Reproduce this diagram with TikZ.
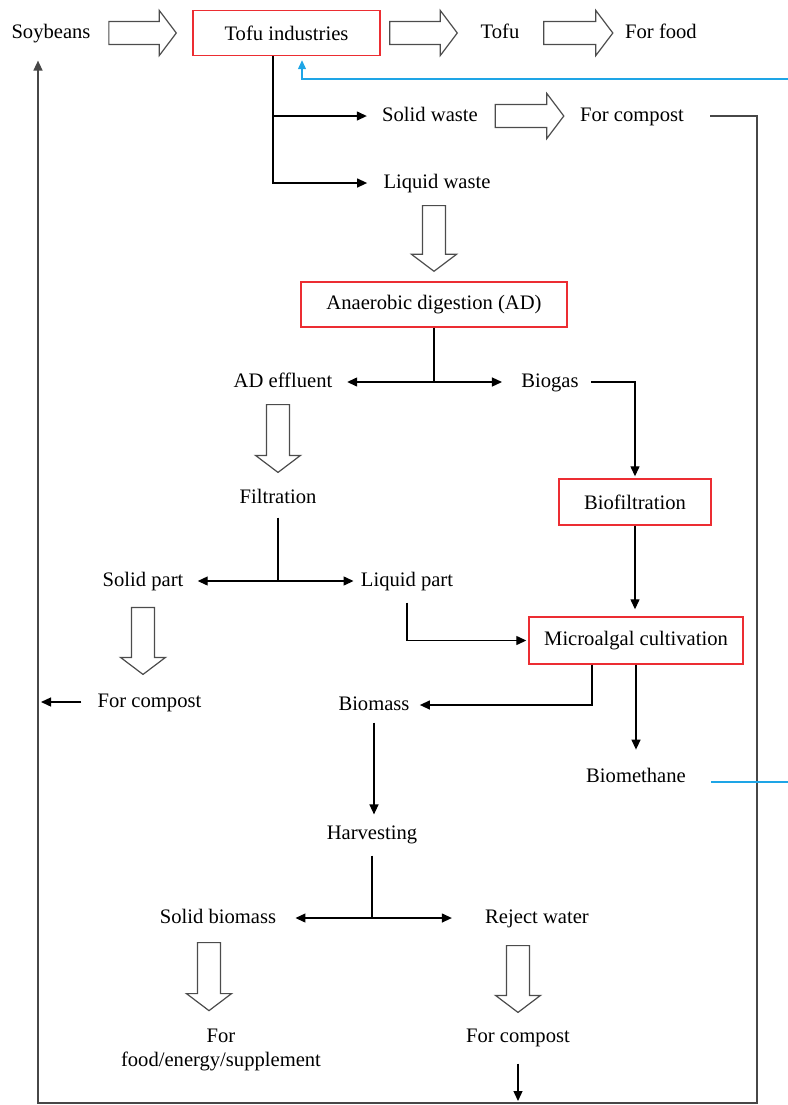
\documentclass[tikz,border=0pt]{standalone}
\usepackage{fontspec}
\setmainfont{Liberation Serif}
\usetikzlibrary{arrows.meta,calc}
\definecolor{boxred}{RGB}{236,45,50}
\definecolor{gasblue}{RGB}{30,165,230}
\begin{document}
\begin{tikzpicture}[x=0.5pt, y=-0.5pt, font=\fontsize{10.3}{12}\selectfont,
        txt/.style = {inner sep=0pt, text height=7.2pt, text depth=2pt},
        redbox/.style = {draw=boxred, line width=0.7pt, inner sep=0pt},
        link/.style = {line width=0.65pt},
        arr/.style = {link, -{Triangle[length=5pt, width=4.5pt]}},
        back/.style = {draw=black!72, line width=0.75pt},
        gasline/.style = {draw=gasblue, line width=0.6pt},
        hollow/.style = {draw=black!70, line width=0.6pt, to path={
            ($(\tikztostart)!5.75pt!90:(\tikztotarget)$)
            -- ($($(\tikztotarget)!8.5pt!(\tikztostart)$)!5.75pt!-90:(\tikztostart)$)
            -- ($($(\tikztotarget)!8.5pt!(\tikztostart)$)!11.25pt!-90:(\tikztostart)$)
            -- (\tikztotarget)
            -- ($($(\tikztotarget)!8.5pt!(\tikztostart)$)!11.25pt!90:(\tikztostart)$)
            -- ($($(\tikztotarget)!8.5pt!(\tikztostart)$)!5.75pt!90:(\tikztostart)$)
            -- ($(\tikztostart)!5.75pt!-90:(\tikztotarget)$) -- cycle}}]

        \useasboundingbox (0,0) rectangle (788,1105);

        \node[txt] (soy) at (51,33) {Soybeans};
        \node[redbox, minimum width=93.5pt, minimum height=22.5pt] (tofuind) at (286.5,33) {Tofu industries};
        \node[txt] (tofu) at (500,33) {Tofu};
        \node[txt] (food) at (661,33) {For food};
        \node[txt] (solidw) at (430,116) {Solid waste};
        \node[txt] (compostA) at (632,116) {For compost};
        \node[txt] (liquidw) at (437,183) {Liquid waste};
        \node[redbox, minimum width=133pt, minimum height=22.5pt] (ad) at (434,304.5) {Anaerobic digestion (AD)};
        \node[txt] (effl) at (283,382) {AD effluent};
        \node[txt] (biogas) at (550,382) {Biogas};
        \node[redbox, minimum width=76pt, minimum height=23pt] (biofilt) at (635,502) {Biofiltration};
        \node[txt] (filt) at (278,498) {Filtration};
        \node[txt] (solidp) at (143,581) {Solid part};
        \node[txt] (liquidp) at (407,581) {Liquid part};
        \node[redbox, minimum width=107pt, minimum height=23.5pt] (micro) at (636,640.5) {Microalgal cultivation};
        \node[txt] (compostB) at (149.5,702) {For compost};
        \node[txt] (biomass) at (374,705) {Biomass};
        \node[txt] (biometh) at (636,777) {Biomethane};
        \node[txt] (harv) at (372,834) {Harvesting};
        \node[txt] (solidb) at (218,918) {Solid biomass};
        \node[txt] (reject) at (537,918) {Reject water};
        \node[align=center, inner sep=0pt] (ffes) at (221,1050) {For\\food/energy/supplement};
        \node[txt] (compostC) at (518,1037) {For compost};

        \coordinate (trunk) at ([xshift=-6.75pt]tofuind.south);
        \coordinate (loopR) at (757,1103);
        \coordinate (loopL) at (38,1103);
        \coordinate (edgeA) at (788,79);
        \coordinate (edgeB) at (788,782);

        \draw[hollow] ([xshift=9pt]soy.east) to ([xshift=-8pt]tofuind.west);
        \draw[hollow] ([xshift=4.5pt]tofuind.east) to ([xshift=-11.5pt]tofu.west);
        \draw[hollow] ([xshift=12pt]tofu.east) to ([xshift=-6pt]food.west);
        \draw[hollow] ([xshift=8.5pt]solidw.east) to ([xshift=-8pt]compostA.west);
        \draw[hollow] ($(liquidw.south -| ad.north)+(0,13)$) to ([yshift=5pt]ad.north);
        \draw[hollow] ($(effl.south -| filt.north)+(0,13)$) to ([yshift=8pt]filt.north);
        \draw[hollow] ([yshift=-8.4pt]solidp.south) to ($(solidp.south |- compostB.north)+(0,-18)$);
        \draw[hollow] ($(solidb.south)+(-9,15)$) to ($(solidb.south |- ffes.north)+(-9,-18)$);
        \draw[hollow] ($(reject.south -| compostC.north)+(0,18)$) to ([yshift=7.5pt]compostC.north);

        \draw[arr, shorten >=8pt] (trunk) |- (liquidw);
        \draw[arr, shorten >=7.5pt] (trunk |- solidw) -- (solidw);
        \draw[gasline, -{Triangle[length=4.5pt, width=4pt]}, shorten >=2pt] (edgeA) -| ([xshift=7.75pt]tofuind.south);
        \draw[back, -{Triangle[length=5pt, width=4.5pt]}, shorten >=9pt] ([xshift=13pt]compostA.east) -| (loopR) -- (loopL) -- (loopL |- soy.south);

        \draw[link] (ad.south) -- (ad.south |- effl) coordinate (adsplit);
        \draw[arr, shorten >=7.25pt] (adsplit) -- (effl);
        \draw[arr, shorten >=9.5pt] (adsplit) -- (biogas);
        \draw[arr, shorten >=1pt] ([xshift=6pt]biogas.east) -| (biofilt.north);
        \draw[arr, shorten >=3.5pt] (biofilt.south) -- (biofilt.south |- micro.north);

        \draw[link, shorten <=5pt] (filt.south) -- (filt.south |- solidp) coordinate (filtsplit);
        \draw[arr, shorten >=7pt] (filtsplit) -- (solidp);
        \draw[arr, shorten >=3.5pt] (filtsplit) -- (liquidp);
        \draw[arr, shorten <=6pt, shorten >=1pt] (liquidp.south) |- (micro);
        \draw[arr, shorten <=8pt, shorten >=1.5pt] (compostB.west) -- (compostB.west -| loopL);

        \draw[arr, shorten >=5pt] ([xshift=-22pt]micro.south) |- (biomass);
        \draw[arr, shorten >=8.9pt] (micro.south) -- (micro.south |- biometh.north);
        \draw[gasline] ([xshift=12.5pt,yshift=-2.5pt]biometh.east) -- (edgeB);

        \draw[arr, shorten <=4pt, shorten >=5pt] (biomass.south) -- (biomass.south |- harv.north);
        \draw[link, shorten <=6pt] (harv.south) -- (harv.south |- solidb) coordinate (harvsplit);
        \draw[arr, shorten >=9.5pt] (harvsplit) -- (solidb);
        \draw[arr, shorten >=16.5pt] (harvsplit) -- (reject);
        \draw[arr, shorten <=8.5pt, shorten >=1pt] (compostC.south) -- (compostC.south |- loopL);

    \end{tikzpicture}
\end{document}
